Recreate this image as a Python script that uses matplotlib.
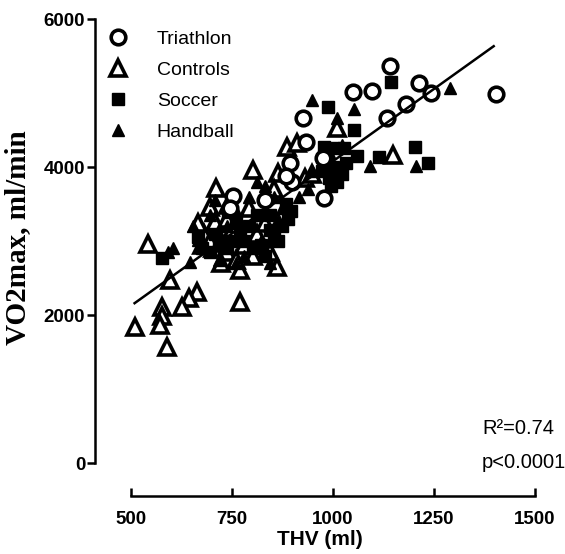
import numpy as np
import matplotlib
matplotlib.use("Agg")
import matplotlib.pyplot as plt

# Triathlon (open circles)
tri_x = [1141, 1049, 1096, 1213, 1242, 1404, 1180, 1134, 926, 933, 894, 978, 832, 975, 899, 753, 745, 883]
tri_y = [5363, 5012, 5026, 5134, 4999, 4985, 4850, 4661, 4661, 4337, 4053, 3580, 3553, 4121, 3796, 3607, 3445, 3880]

# Controls (open triangles)
con_x = [710, 740, 695, 542, 597, 664, 644, 626, 577, 577, 571, 509, 589, 770, 886, 910, 1010, 1149,
         844, 861, 770, 802, 864, 708, 681, 717, 702, 738, 722, 675, 749, 780, 812, 665, 801, 738,
         833, 791, 932, 990, 948, 854, 759, 696]
con_y = [3715, 3486, 3459, 2959, 2472, 2310, 2229, 2108, 2108, 1986, 1864, 1837, 1567, 2175, 4269, 4323, 4526, 4161,
         2851, 2648, 2607, 3958, 3918, 3256, 3100, 3050, 2900, 2850, 2700, 2950, 3150, 2950, 3100, 3250, 2800, 3300,
         3250, 3450, 3850, 4000, 3900, 3700, 2750, 3000]

# Soccer (filled squares)
soc_x = [1145, 988, 1052, 978, 1000, 1027, 1059, 1114, 1203, 1235, 577, 740,
         985, 1001, 1022, 990, 1011, 974, 1032, 995, 885, 896, 890, 875, 854, 843, 864, 822,
         801, 780, 791, 812, 770, 738, 717, 696, 675, 665, 707, 749, 833, 759, 843]
soc_y = [5147, 4810, 4499, 4269, 4256, 4256, 4148, 4134, 4269, 4053, 2770, 3391,
         4150, 4000, 3900, 3850, 3800, 3950, 4050, 3750, 3500, 3400, 3300, 3200, 3050, 3150, 3000, 2950,
         2900, 3000, 3200, 3350, 3100, 2900, 2950, 2850, 2900, 3050, 3100, 3000, 2800, 3250, 3350]

# Handball (filled triangles)
han_x = [1289, 948, 1052, 1010, 1092, 1205, 653, 604, 646, 666, 591,
         707, 696, 738, 759, 791, 812, 833, 854, 875, 864, 938, 948, 917, 822, 780, 717, 759, 843, 990, 1022]
han_y = [5066, 4904, 4783, 4661, 4012, 4012, 3202, 2905, 2716, 3013, 2851,
         3550, 3350, 3200, 3400, 3600, 3800, 3750, 3600, 3450, 3300, 3700, 3950, 3600, 3000, 2800, 2750, 2700, 2700, 4200, 4300]

# regression line
fit_slope, fit_icpt = 3.906, 172
fit_x = [509, 1398]

plt.rcParams['font.family'] = ['Liberation Sans', 'DejaVu Sans']

fig = plt.figure(figsize=(5.65, 5.54), dpi=100)
ax = fig.add_axes([95/565, 1-496/554, 450/565, 477/554])

ax.plot(con_x, con_y, ls='none', marker='^', ms=11, mfc='white', mec='black', mew=2.6,
        label='Controls', clip_on=False, zorder=3)
ax.plot(soc_x, soc_y, ls='none', marker='s', ms=8.5, mfc='black', mec='black',
        label='Soccer', clip_on=False, zorder=3)
ax.plot(han_x, han_y, ls='none', marker='^', ms=9, mfc='black', mec='black',
        label='Handball', clip_on=False, zorder=3)
ax.plot(tri_x, tri_y, ls='none', marker='o', ms=10.5, mfc='white', mec='black', mew=2.6,
        label='Triathlon', clip_on=False, zorder=3)

fx = np.array(fit_x)
ax.plot(fx, fit_slope*fx + fit_icpt, color='black', lw=1.8, zorder=4)

ax.set_xlim(411, 1525)
ax.set_ylim(-445, 6000)
ax.set_xticks([500, 750, 1000, 1250, 1500])
ax.set_yticks([0, 2000, 4000, 6000])
for s in ['top', 'right']:
    ax.spines[s].set_visible(False)
ax.spines['left'].set_bounds(0, 6000)
ax.spines['bottom'].set_bounds(500, 1500)
for s in ['left', 'bottom']:
    ax.spines[s].set_linewidth(1.8)
ax.tick_params(axis='y', direction='out', length=6, width=1.8, pad=1, labelsize=13.5)
ax.tick_params(axis='x', direction='in', length=6, width=1.8, pad=11, labelsize=13.5)
for lab in ax.get_xticklabels() + ax.get_yticklabels():
    lab.set_fontweight('bold')

ax.set_xlabel('THV (ml)', fontsize=15, fontweight='bold', labelpad=1)
fig.text(18/565, 1-238/554, 'VO2max, ml/min', rotation=90, ha='center', va='center',
         fontsize=21, fontweight='bold', family='Liberation Serif')

h, l = ax.get_legend_handles_labels()
order = [3, 0, 1, 2]
ax.legend([h[i] for i in order], [l[i] for i in order], loc='upper left',
          bbox_to_anchor=(0.029, 0.977), frameon=False, fontsize=14, borderpad=0,
          handlelength=1.0, handletextpad=1.5, labelspacing=0.69, borderaxespad=0)

fig.text(482/565, 1-428/554, 'R²=0.74', fontsize=14.5, va='center', ha='left')
fig.text(482/565, 1-462/554, 'p<0.0001', fontsize=14.5, va='center', ha='left')

fig.savefig('out.png', dpi=100)
